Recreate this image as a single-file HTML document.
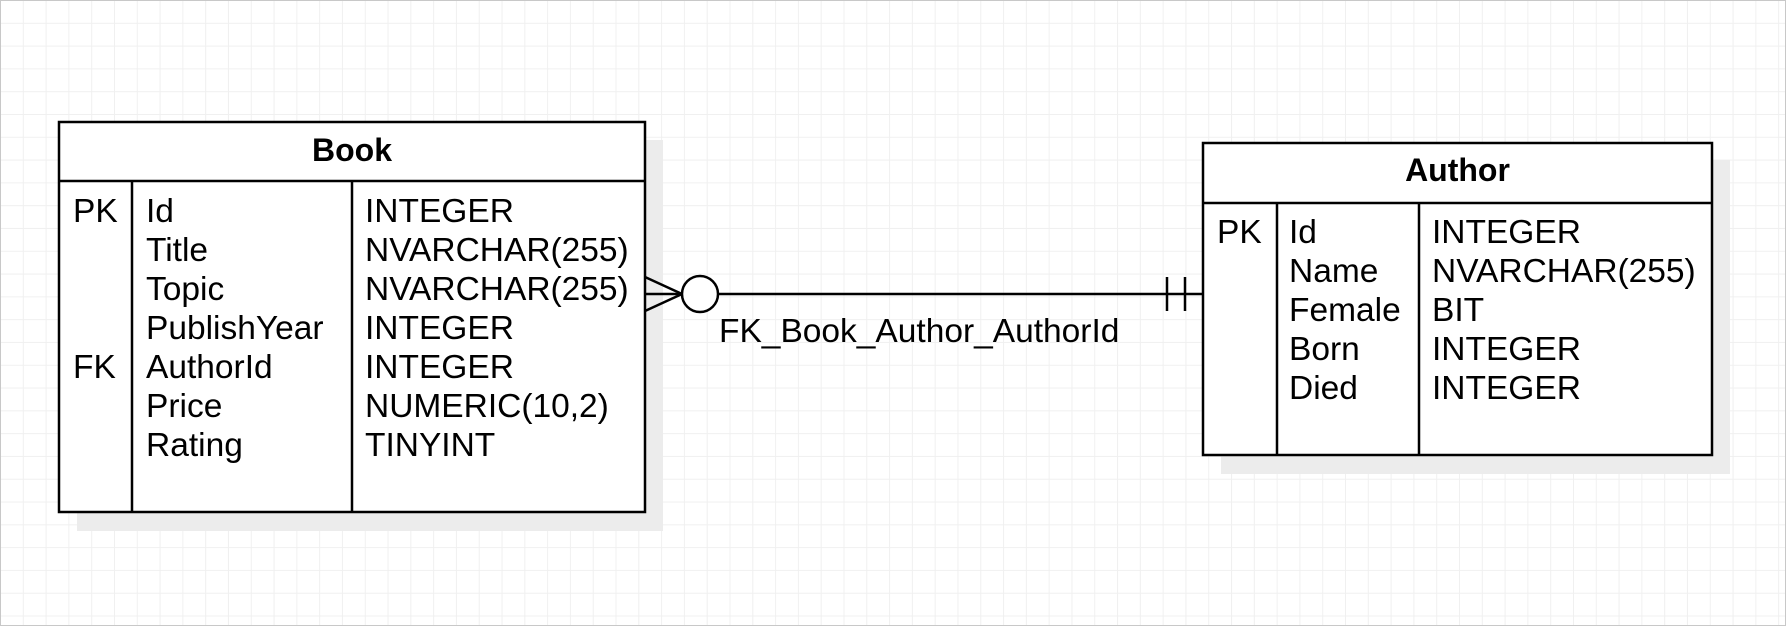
<!DOCTYPE html>
<html><head><style>
html,body{margin:0;padding:0}
body{width:1786px;height:626px;position:relative;overflow:hidden;background:#fff;
background-image:linear-gradient(#f0f0f0 1px,transparent 1px),linear-gradient(90deg,#f0f0f0 1px,transparent 1px);
background-size:22.8px 22.8px;font-family:"Liberation Sans",sans-serif;}
.frame{position:absolute;left:0;top:0;width:1784px;height:624px;border:1px solid #c8c8c8}
.t{position:absolute;font-size:33.5px;color:#000;white-space:nowrap;line-height:39px}
.b{font-weight:bold;font-size:32px}
</style></head><body>
<div class="frame"></div>
<svg width="1786" height="626" style="position:absolute;left:0;top:0">
<rect x="77" y="140" width="586" height="391" fill="#ececec"/>
<rect x="1221" y="160" width="509" height="314" fill="#ececec"/>
<g stroke="#000" stroke-width="2.5" fill="#fff">
<rect x="59" y="122" width="586" height="390"/>
<line x1="59" y1="181" x2="645" y2="181"/>
<line x1="132" y1="181" x2="132" y2="512"/>
<line x1="352" y1="181" x2="352" y2="512"/>
<rect x="1203" y="143" width="509" height="312"/>
<line x1="1203" y1="203" x2="1712" y2="203"/>
<line x1="1277" y1="203" x2="1277" y2="455"/>
<line x1="1419" y1="203" x2="1419" y2="455"/>
<line x1="645" y1="294" x2="682" y2="294"/>
<line x1="645" y1="277" x2="682" y2="294"/>
<line x1="645" y1="311" x2="682" y2="294"/>
<circle cx="700" cy="294" r="18"/>
<line x1="718" y1="294" x2="1203" y2="294"/>
<line x1="1167" y1="277" x2="1167" y2="311"/>
<line x1="1185" y1="277" x2="1185" y2="311"/>
</g>
</svg>
<div class="t b" style="left:59px;width:586px;text-align:center;top:131px">Book</div>
<div class="t" style="left:73px;top:191.5px">PK</div>
<div class="t" style="left:73px;top:347.5px">FK</div>
<div class="t" style="left:146px;top:191.5px">Id<br>Title<br>Topic<br>PublishYear<br>AuthorId<br>Price<br>Rating</div>
<div class="t" style="left:365px;top:191.5px">INTEGER<br>NVARCHAR(255)<br>NVARCHAR(255)<br>INTEGER<br>INTEGER<br>NUMERIC(10,2)<br>TINYINT</div>
<div class="t b" style="left:1203px;width:509px;text-align:center;top:151px">Author</div>
<div class="t" style="left:1217px;top:212.5px">PK</div>
<div class="t" style="left:1289px;top:212.5px">Id<br>Name<br>Female<br>Born<br>Died</div>
<div class="t" style="left:1432px;top:212.5px">INTEGER<br>NVARCHAR(255)<br>BIT<br>INTEGER<br>INTEGER</div>
<div class="t" style="left:719px;top:312px">FK_Book_Author_AuthorId</div>
</body></html>
